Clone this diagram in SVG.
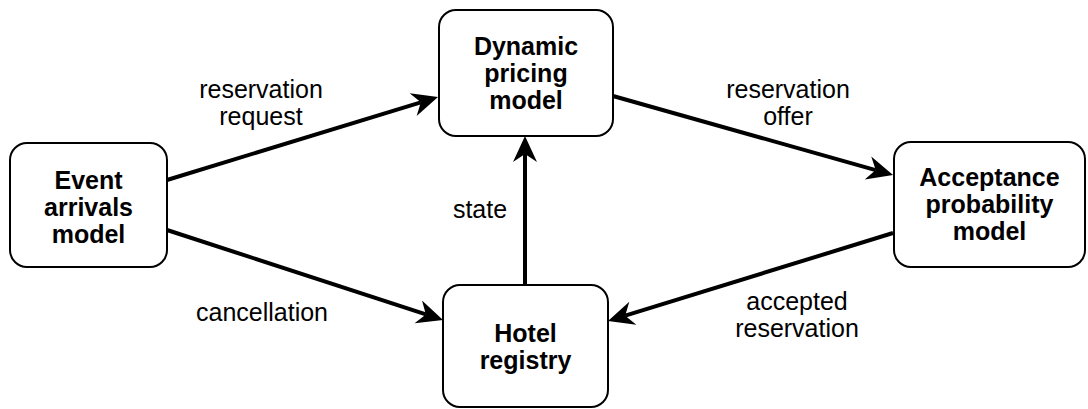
<svg xmlns="http://www.w3.org/2000/svg" width="1088" height="409" viewBox="0 0 1088 409">
<style>
.node rect{fill:#fff;stroke:#000;stroke-width:2}
.nt{font-family:"Liberation Sans",Arial,sans-serif;font-size:25px;font-weight:bold;text-anchor:middle;fill:#000}
.lt{font-family:"Liberation Sans",Arial,sans-serif;font-size:25px;text-anchor:middle;fill:#000}
.edge{fill:none;stroke:#000;stroke-width:4;marker-end:url(#ah)}
</style>
<defs>
<marker id="ah" markerUnits="userSpaceOnUse" markerWidth="28" markerHeight="26" refX="8" refY="12" orient="auto" overflow="visible">
<path d="M26,12 L0,0 L8,12 L0,24 Z" fill="#000"/>
</marker>
</defs>
<rect width="1088" height="409" fill="#fff"/>
<g id="connectors">
<line class="edge" x1="167" y1="180" x2="420.8" y2="102.3"/>
<line class="edge" x1="613" y1="96" x2="875.7" y2="170.1"/>
<line class="edge" x1="893" y1="233" x2="625.2" y2="315.7"/>
<line class="edge" x1="167" y1="230" x2="425.9" y2="314.4"/>
<line class="edge" x1="525" y1="285" x2="525" y2="154"/>
<text class="lt" x="261" y="98">reservation</text>
<text class="lt" x="261" y="125">request</text>
<text class="lt" x="788" y="98">reservation</text>
<text class="lt" x="788" y="125">offer</text>
<text class="lt" x="480" y="218">state</text>
<text class="lt" x="262" y="321">cancellation</text>
<text class="lt" x="797" y="310">accepted</text>
<text class="lt" x="797" y="337">reservation</text>
</g>
<g id="event" class="node">
<rect x="10" y="143" width="157" height="124" rx="17"/>
<text class="nt" x="88.5" y="189">Event</text>
<text class="nt" x="88.5" y="216">arrivals</text>
<text class="nt" x="88.5" y="243">model</text>
</g>
<g id="pricing" class="node">
<rect x="439" y="10" width="174" height="126" rx="17"/>
<text class="nt" x="526" y="55">Dynamic</text>
<text class="nt" x="526" y="82">pricing</text>
<text class="nt" x="526" y="109">model</text>
</g>
<g id="acceptance" class="node">
<rect x="894" y="142" width="191" height="125" rx="17"/>
<text class="nt" x="989.5" y="186">Acceptance</text>
<text class="nt" x="989.5" y="213">probability</text>
<text class="nt" x="989.5" y="240">model</text>
</g>
<g id="hotel" class="node">
<rect x="443" y="285" width="165" height="122" rx="17"/>
<text class="nt" x="525.5" y="342">Hotel</text>
<text class="nt" x="525.5" y="369">registry</text>
</g>
</svg>
